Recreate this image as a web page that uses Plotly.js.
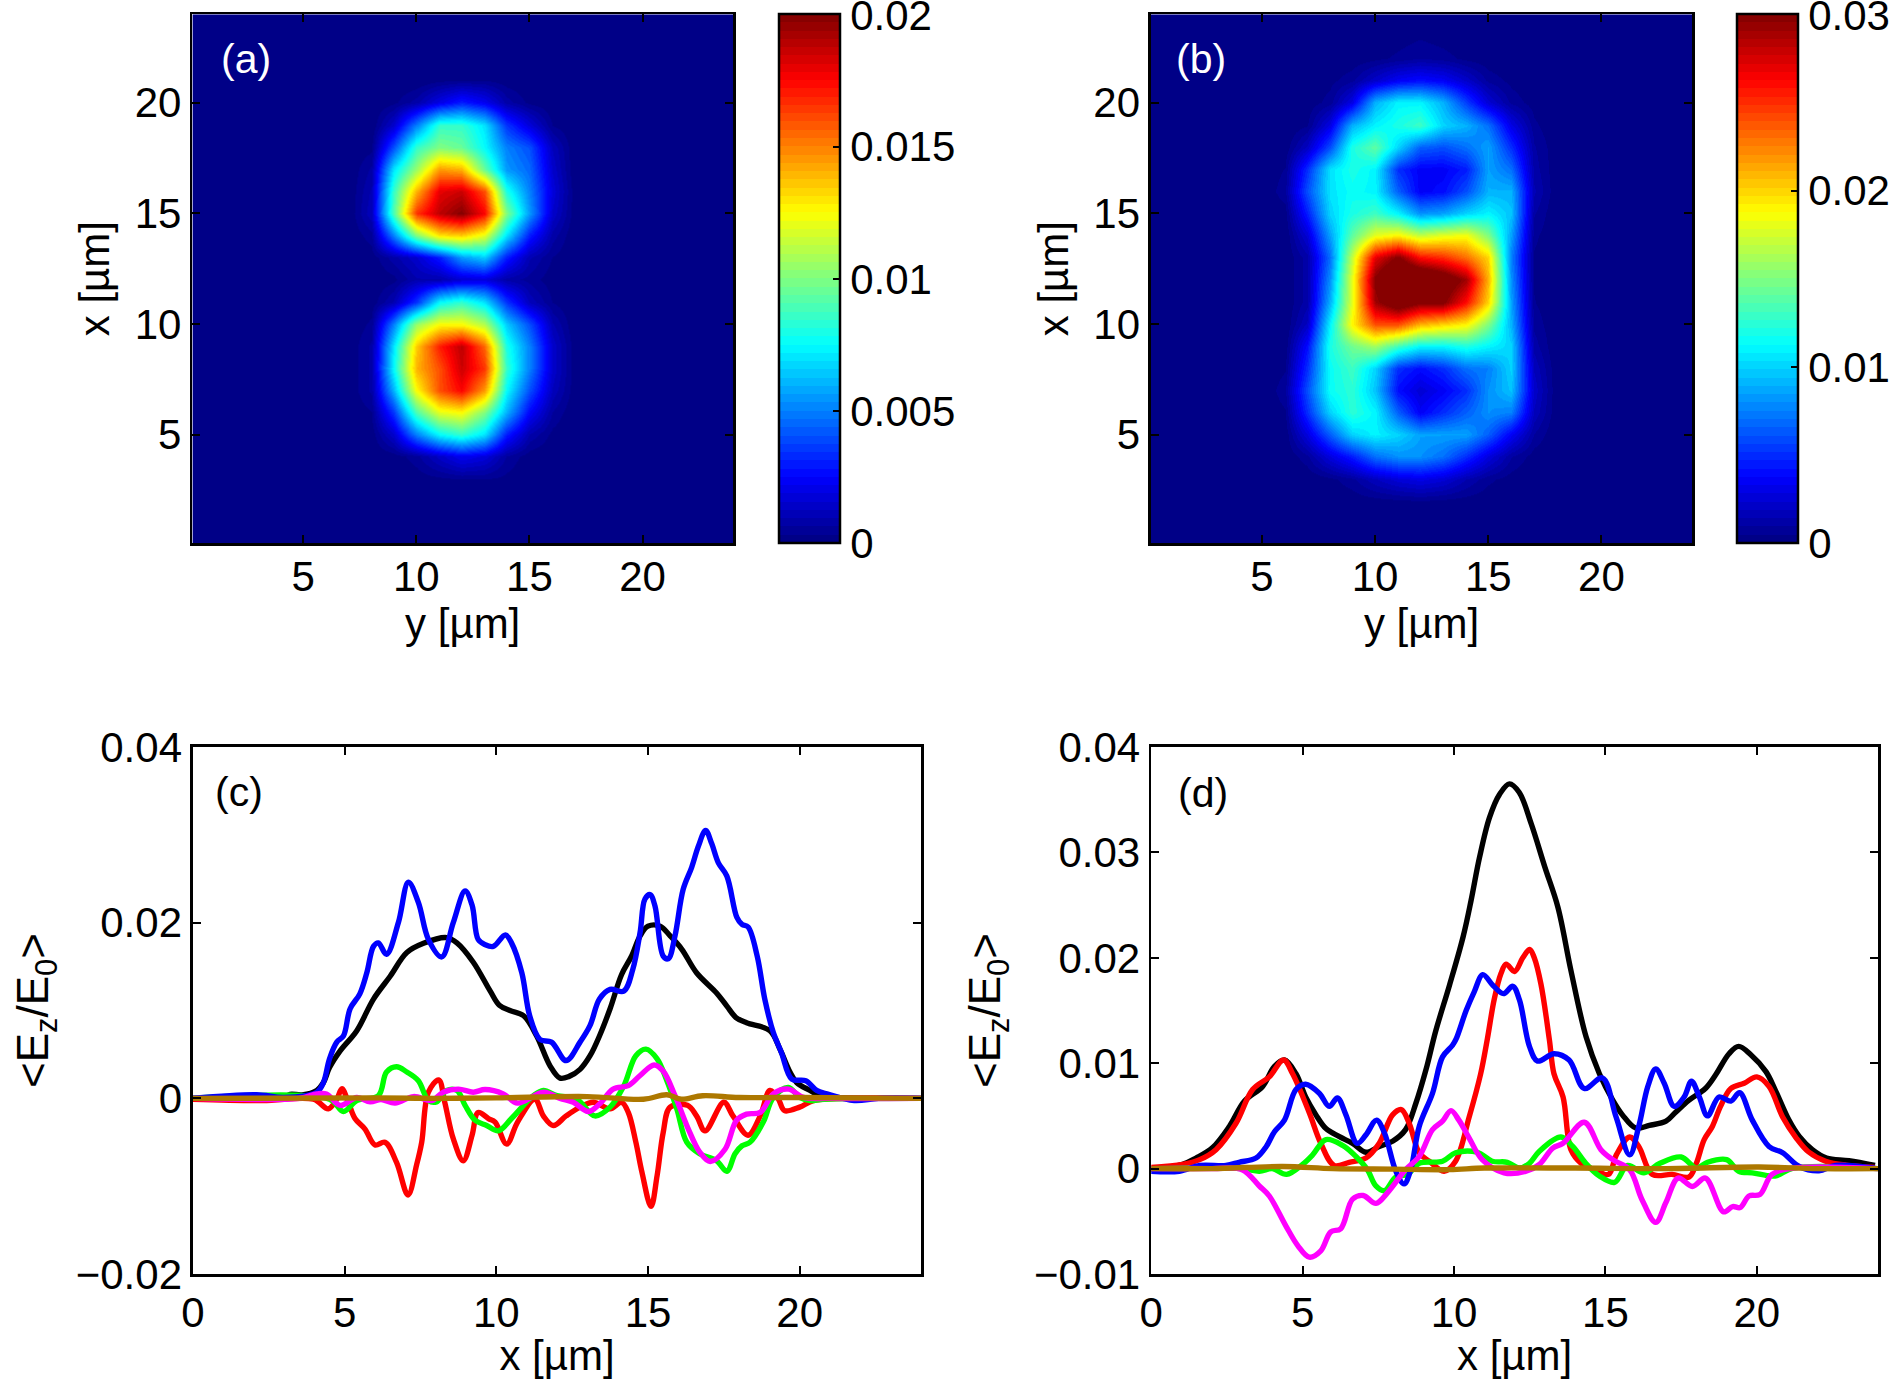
<!DOCTYPE html>
<html>
<head>
<meta charset="utf-8">
<script src="https://cdn.plot.ly/plotly-3.0.1.min.js"></script>
<style>html,body{margin:0;padding:0;background:#fff}</style>
</head>
<body>
<div id="fig" style="width:1890px;height:1379px"></div>
<script>
// all field values below are in units of 1e-3

// (a) map: columns are y = 7..17, rows are x = 3..21
var colsA = [7,8,9,10,11,12,13,14,15,16,17];
var rowsA = [3,4,5,6,7,8,9,10,11,12,13,14,15,16,17,18,19,20,21];
var zA = [
  [0,0,0,.1,.2,.3,.3,.2,0,0,0],
  [0,0,.1,.5,1.4,2.2,1.8,.6,.1,0,0],
  [0,.1,1.5,5,7.5,8.5,7,3,.9,.2,0],
  [0,.3,3.5,9,12,12.5,10,6,2.5,.6,0],
  [.05,.7,6,12.5,16,17.5,14.5,7.5,4,1.2,.1],
  [.05,.7,7.5,14,16,18.5,16.5,8.5,5,1.5,.1],
  [.05,.7,7,13.5,17,18.8,15.5,8,5,1.5,.1],
  [0,.4,5,10.5,12.5,12.5,11,6.5,4,1,0],
  [0,.1,1,3.5,7.5,8.5,7,3.5,1.2,.3,0],
  [0,0,.2,.9,.9,1.6,1.8,.8,.5,.1,0],
  [0,.1,.8,1.5,3,5.5,6.5,3,1,.3,0],
  [0,.5,5,10,13,13.5,12,7,3,.8,0],
  [0,1.2,9,16.5,18.8,19.9,17.5,10,5.5,1.5,.1],
  [0,1,8.5,14,18,18.5,16,8,5,1.8,.1],
  [0,.7,7,10.5,14.5,14,9.5,5.5,4.5,1.5,0],
  [0,.2,4,8.5,10,9.5,7.5,5,4,1.2,0],
  [0,0,1.5,5,8.5,8.5,7,3.5,1.8,.3,0],
  [0,0,.2,.8,2,3,2.2,.8,.2,0,0],
  [0,0,0,0,.2,.3,.3,.1,0,0,0]
];

// (b) map: columns are y = 6..18, rows are x = 2..23
var colsB = [6,7,8,9,10,11,12,13,14,15,16,17,18];
var rowsB = [2,3,4,5,6,7,8,9,10,11,12,13,14,15,16,17,18,19,20,21,22,23];
var zB = [
  [0,0,0,.1,.2,.3,.4,.3,.2,.1,0,0,0],
  [0,0,.3,.8,1.8,2.6,3,2.5,1.4,.6,.2,0,0],
  [0,.8,2.8,4.5,7,8,8,7,5,2.8,1,.2,0],
  [.1,2.8,6.5,10,11,10,8.5,8.5,8.5,6.5,3.5,.9,0],
  [.4,5,10,12.5,11,6.5,3.5,5,6.5,8,7.5,1.8,.1],
  [.8,6,11.5,12.5,9.5,4,2.5,3.5,5,8,9.5,2.2,.1],
  [.4,5,11.5,13,10,5,4,5,7,7.5,10,1.8,.1],
  [.1,4,12,14.5,16,13,11,11,12,11,10,1.2,0],
  [0,2,11,19,24,24,21,20,19,15,9,.8,0],
  [0,1.2,9,18,29,32,30,30,26,20,8.5,.5,0],
  [0,1.2,8,18,30,34,34,32,29,21,8,.4,0],
  [0,1.2,7,17,27,30,26,25,23,20,7.5,.4,0],
  [0,2.5,8.5,14,18,19,17,18,18.5,15,8.5,.6,0],
  [.2,4.5,10,12,13,11,8,8.5,10,11,9.5,1,0],
  [.8,6,10.5,11.5,11,6.5,3.5,4,6,9,9,1.5,.1],
  [.5,5,10.5,12,11,5,3.5,3.5,4.5,8.5,7,1.2,.1],
  [.1,2,6,12,14,10,6.5,6,7,8.5,5,1,.1],
  [0,.4,3,9,11,12,13,10,9,7,3,.6,0],
  [0,.1,.7,3,9,11,11,9,5.5,2.5,.8,.2,0],
  [0,0,.3,.8,2.2,3.5,4,3.5,2.2,.8,.3,0,0],
  [0,0,0,.1,.3,.6,.9,.7,.3,.1,0,0,0],
  [0,0,0,0,0,.2,.4,.2,0,0,0,0,0]
];

// (c) curves
var cBlackX = [0,3,3.2,3.6,4.08,4.3,4.5,4.85,5.4,5.95,6.5,7.05,7.6,8.36,8.7,9.24,9.8,10.1,10.45,10.9,11.33,11.77,12.1,12.4,12.76,13.09,13.4,13.75,14.13,14.46,14.74,15,15.4,15.73,16.11,16.6,17.26,17.6,17.9,18.25,19.02,19.35,19.68,19.9,20.34,20.67,21.2,24];
var cBlackY = [0,.1,.45,.4,.9,1.8,3.5,5.4,7.7,11.3,13.9,16.6,17.65,18.3,17.7,15.5,12.2,10.6,10,9.4,7.1,3.7,2.3,2.5,3.3,4.85,7.1,10.2,14.1,16.2,18.5,19.6,19.6,18.5,17,14.3,12,10.5,9.2,8.6,7.7,5.6,3,1.8,.9,.3,.1,0];
var cRedX = [0,2.3,3.97,4.46,4.74,4.91,5.12,5.34,5.67,6,6.33,6.71,7.09,7.37,7.54,7.76,8.1,8.3,8.58,8.91,9.2,9.4,9.74,9.96,10.34,10.7,11.27,11.55,11.88,12.3,12.76,13.2,13.75,14.13,14.35,14.6,14.8,15.1,15.3,15.5,15.73,16.3,16.6,16.88,17.5,17.8,18.3,18.7,19.02,19.3,19.5,20,20.45,21.5,24];
var cRedY = [-.1,-.25,-.1,-1.2,-.1,1.1,-.45,-2.3,-3.5,-5.3,-5,-7.3,-11,-7.6,-5,.7,2.1,-.45,-4.6,-7.1,-4.2,-1.6,-2.3,-2.7,-5.2,-2.7,-.1,-2,-3.1,-2,-1,-.45,-1.2,-.45,-1.6,-5,-8.4,-12.3,-8.8,-3.9,-1,-.8,-2,-3.7,-.45,-2,-4.2,-2,.9,-.1,-1.4,-1,-.25,0,0];
var cGreenX = [0,4.5,4.96,5.4,6.11,6.38,6.71,7.05,7.43,7.76,8.03,8.36,8.7,8.97,9.3,9.68,10.07,10.5,11.22,11.55,12,12.65,13.25,13.75,14.2,14.6,14.93,15.3,15.6,15.95,16.28,16.7,17.26,17.6,17.87,18.1,18.36,18.8,19.13,19.63,20,20.34,20.8,24];
var cGreenY = [0,-.1,-1.5,-.25,.3,3,3.6,3,2,-.25,-.4,.9,.9,-.8,-2.5,-3.1,-3.7,-2.3,.3,.9,.3,-.1,-2,-1,1.4,4.85,5.6,4.5,2.2,-1.2,-5,-6.3,-7.1,-8.3,-6.3,-5.4,-5,-2.7,.1,1.25,.1,-.25,-.1,0];
var cBlueX = [0,2.1,3,4.08,4.3,4.5,4.74,4.96,5.18,5.5,5.73,5.95,6.11,6.38,6.77,7.1,7.43,7.76,8.2,8.58,8.97,9.2,9.4,9.63,9.9,10.3,10.5,10.84,11.1,11.44,11.82,12.3,12.76,13.09,13.4,13.75,14.2,14.5,14.74,14.9,15.07,15.23,15.5,15.67,15.89,16.16,16.44,16.66,16.9,17.1,17.32,17.6,17.93,18.1,18.3,18.6,18.85,19.13,19.4,19.74,20.2,20.56,20.9,21.8,22.6,24];
var cBlueY = [0,.4,.1,.7,1.8,4.5,6.4,7.1,10.2,11.9,14.3,17.3,17.7,16.4,20,24.6,22.3,18.1,16.1,20,23.6,22,18.1,17.5,17.3,18.6,17.7,14.3,9.4,6.7,6.4,4.3,6.4,8.3,11.3,12.4,12.2,14.7,18.9,22.7,23.2,21.9,16.2,15.9,18.5,23.8,26.3,28.7,30.5,29,26.8,25.3,20.6,19.8,19.5,16.2,11.3,7.5,5.2,2.2,2,.9,.5,-.25,0,0];
var cMagentaX = [0,3.5,4.08,4.4,4.85,5.4,5.84,6.2,6.66,7.27,7.87,8.25,8.75,9.24,9.63,10.23,10.7,11.55,12.1,12.54,13.03,13.4,13.85,14.35,14.74,15.2,15.5,15.89,16.33,16.7,17.05,17.54,17.92,18.25,18.7,19.13,19.63,20.13,21,24];
var cMagentaY = [0,0,.5,.5,-.8,.1,-.4,-.15,-.55,.2,-.25,.7,1.05,.7,1,.5,-.55,.7,0,-.45,-1.5,-.65,1.05,1.45,2.6,3.8,3.1,.3,-3.5,-6.1,-7.2,-5.8,-2.5,-1.8,-1.6,.5,1.05,.1,0,0];
var cBrownX = [0,6,8,10,13,14.85,15.62,16.1,16.8,18,20,24];
var cBrownY = [0,.05,0,.05,.2,-.1,.4,-.1,.3,.1,.1,0];

// (d) curves
var dBlackX = [0,1.04,1.48,2.03,2.58,3.08,3.68,4.07,4.4,4.78,5.1,5.44,5.77,6.2,6.65,7.09,7.53,7.97,8.4,8.74,9.07,9.4,9.85,10.3,10.56,10.84,11.17,11.5,11.83,12.15,12.55,13,13.43,13.86,14.36,14.8,15.24,15.56,16,16.45,17,17.3,17.76,18.3,18.64,19.08,19.4,19.8,20.3,20.6,21.06,21.4,21.83,22.3,23.04,23.9];
var dBlackY = [-.1,.4,1,2,4,6.4,7.8,9.7,10.3,9,6.8,5.1,3.8,3.05,2.4,1.55,2.1,2.6,3.7,6.2,9.35,13.1,17.4,22,25.4,29.5,33.3,35.5,36.5,35.7,32.7,28.6,24.8,18.8,12.5,9,6.5,5.1,3.85,4.1,4.5,5.3,6.5,7.6,8.9,10.9,11.6,10.8,9.2,7.5,4.6,3.05,1.8,1,.75,.3];
var dRedX = [0,1.04,1.6,2.14,2.8,3.35,3.9,4.37,4.67,5.22,5.6,6.04,6.54,7.09,7.53,7.97,8.26,8.52,8.85,9.18,9.67,10.05,10.5,10.88,11.1,11.33,11.55,11.72,12,12.27,12.5,12.65,12.87,13.15,13.3,13.6,13.86,14.2,14.63,15.1,15.36,15.8,16.1,16.55,17.2,17.76,18,18.26,18.53,18.8,19.14,19.58,20,20.4,20.85,21.3,21.7,22.27,23,23.9];
var dRedY = [.1,.4,.85,1.8,4.3,7.5,8.7,10.3,9,5.3,2.4,.3,.6,1,2.4,5.1,5.6,4.3,1.5,.7,-.25,.7,4.9,9,12.3,16.1,18.5,19.4,18.7,20,20.8,20,17.5,12.2,9,6.8,1.8,.5,-.1,-.55,1.3,3,2.1,-.55,-.55,-.8,.5,2.75,4,5.9,7.6,8.1,8.7,7.8,4.9,2.9,1.6,.7,.3,.1];
var dGreenX = [0,3,3.57,4,4.47,5,5.33,5.77,6.32,6.76,7.14,7.42,7.7,8.08,8.47,8.85,9.62,10.05,10.77,11.26,11.76,12.16,12.49,12.82,13.53,13.92,14.35,14.8,15.3,15.73,16.27,16.8,17.5,18,18.37,19,19.4,19.85,20.6,21.2,24];
var dGreenY = [0,0,-.25,0,-.55,.4,1.3,2.75,2.2,1.15,-.1,-1.65,-2.1,-.8,-.55,.5,.7,1.5,1.55,.7,.6,.05,.5,1.65,3,2.1,.5,-.7,-1.3,.3,-.4,.5,1.1,.05,.6,.85,-.25,-.4,-.7,.05,0];
var dBlueX = [0,.93,1.6,2.47,2.9,3.46,3.8,4.07,4.4,4.78,5.1,5.55,5.88,6.15,6.43,6.8,7.09,7.44,7.7,8.08,8.35,8.57,8.85,9.29,9.62,9.95,10.07,10.4,10.67,10.95,11.28,11.63,11.94,12.16,12.49,12.76,13.3,13.8,14.3,14.9,15.35,15.8,16.1,16.4,16.66,16.94,17.27,17.6,17.84,18.1,18.37,18.75,19.14,19.43,19.85,20.4,20.85,21.4,22.05,22.6,23.9];
var dBlueY = [-.25,-.25,.3,.3,.6,1,2.1,3.5,4.6,7.5,8,7.15,5.9,6.7,5.1,2.4,3.2,4.6,3.4,-.25,-1.45,-.1,4,7.15,10.6,11.7,12.3,15,16.8,18.4,17.4,16.6,17.3,16,11.6,10.2,10.9,10.3,7.6,8.6,4.9,1.3,4,7.8,9.45,8.1,5.9,6.8,8.3,6.8,5,6.8,6.4,7.2,4.6,2.1,1.5,.2,-.2,.3,.05];
var dMagentaX = [0,2,3,3.57,3.9,4.45,4.84,5.22,5.6,5.93,6.26,6.65,7,7.42,7.8,8.4,8.85,9.29,9.62,9.9,10.16,10.5,10.93,11.65,12.38,12.82,13.26,13.6,14.3,14.85,15.24,15.8,16.2,16.66,17,17.4,17.87,18.3,18.9,19.2,19.45,19.74,20.1,20.5,21.2,24];
var dMagentaY = [0,0,-.1,-1.65,-2.6,-5.45,-7.3,-8.4,-7.8,-6,-5.7,-2.9,-2.55,-3.3,-2.3,-.1,1.15,3.7,4.5,5.5,4.6,2.9,.85,-.4,-.25,.4,1.95,2.4,4.4,1.8,.85,-.1,-2.9,-5.1,-3.2,-.9,-1.7,-.9,-4.1,-3.6,-3.7,-2.6,-2.45,-.55,.05,0];
var dBrownX = [0,2,4.34,6,8,9.85,11,14,17,20.07,22,24];
var dBrownY = [0,0,.2,0,-.05,-.1,.05,.05,0,.15,0,0];

var lineColors = ['#000000','#ff0000','#00ff00','#0000ff','#ff00ff','#ad7800'];
var tickFont = {family: 'Liberation Sans, Arial, sans-serif', size: 42, color: '#000'};

// page size
var W = 1890, H = 1379;
function fx(a, b) { return [a / W, b / W]; }
function fy(top, bottom) { return [1 - bottom / H, 1 - top / H]; }

// matlab jet, 64 flat bands
function jetScale() {
  var out = [];
  for (var i = 0; i < 64; i++) {
    var t = (i + 0.5) / 64;
    var r = Math.min(4 * t - 1.5, -4 * t + 4.5);
    var g = Math.min(4 * t - 0.5, -4 * t + 3.5);
    var b = Math.min(4 * t + 0.5, -4 * t + 2.5);
    var col = 'rgb(' + [r, g, b].map(function (c) {
      return Math.round(255 * Math.max(0, Math.min(1, c)));
    }).join(',') + ')';
    out.push([i / 64, col]);
    out.push([(i + 1) / 64, col]);
  }
  return out;
}

// put a table on the whole 0..24 grid, zero outside it
function fullGrid(cols, rows, table) {
  var z = [];
  for (var r = 0; r <= 24; r++) {
    var line = [];
    for (var c = 0; c <= 24; c++) {
      var ri = rows.indexOf(r), ci = cols.indexOf(c);
      line.push(ri >= 0 && ci >= 0 ? table[ri][ci] / 1000 : 0);
    }
    z.push(line);
  }
  return z;
}

var grid = [];
for (var g = 0; g <= 24; g++) grid.push(g);

function scaled(a) { return a.map(function (v) { return v / 1000; }); }

function mapTrace(xa, ya, z, zmax, cbX, cbVals, cbText) {
  return {
    type: 'heatmap', xaxis: xa, yaxis: ya, x: grid, y: grid, z: z,
    zmin: 0, zmax: zmax, zsmooth: 'best', colorscale: jetScale(),
    colorbar: {
      x: cbX / W, xanchor: 'left', xpad: 0, ypad: 0,
      y: 1 - 14.3 / H, yanchor: 'top', len: 528.7 / H, lenmode: 'fraction',
      thickness: 61, thicknessmode: 'pixels', outlinewidth: 2.5, outlinecolor: '#000',
      tickmode: 'array', tickvals: cbVals, ticktext: cbText, ticklabeloverflow: 'allow',
      ticks: 'inside', ticklen: 8, tickwidth: 2, tickcolor: '#000', tickfont: tickFont
    }
  };
}

function curve(xa, ya, x, y, col) {
  return {
    type: 'scatter', mode: 'lines', xaxis: xa, yaxis: ya, x: x, y: scaled(y),
    line: {color: col, width: 5.4, shape: 'spline', smoothing: 1}, showlegend: false
  };
}

// top value a hair under zmax, or the colorbar axis can drop its label
var cbValsA = [0, .005, .01, .015, .01998], cbTextA = ['0', '0.005', '0.01', '0.015', '0.02'];
var cbValsB = [0, .01, .02, .02997], cbTextB = ['0', '0.01', '0.02', '0.03'];

var data = [
  mapTrace('x', 'y', fullGrid(colsA, rowsA, zA), 0.02, 778.5, cbValsA, cbTextA),
  mapTrace('x2', 'y2', fullGrid(colsB, rowsB, zB), 0.03, 1737, cbValsB, cbTextB),
  curve('x3', 'y3', cBlackX, cBlackY, lineColors[0]),
  curve('x3', 'y3', cRedX, cRedY, lineColors[1]),
  curve('x3', 'y3', cGreenX, cGreenY, lineColors[2]),
  curve('x3', 'y3', cBlueX, cBlueY, lineColors[3]),
  curve('x3', 'y3', cMagentaX, cMagentaY, lineColors[4]),
  curve('x3', 'y3', cBrownX, cBrownY, lineColors[5]),
  curve('x4', 'y4', dBlackX, dBlackY, lineColors[0]),
  curve('x4', 'y4', dRedX, dRedY, lineColors[1]),
  curve('x4', 'y4', dGreenX, dGreenY, lineColors[2]),
  curve('x4', 'y4', dBlueX, dBlueY, lineColors[3]),
  curve('x4', 'y4', dMagentaX, dMagentaY, lineColors[4]),
  curve('x4', 'y4', dBrownX, dBrownY, lineColors[5])
];

function axis(domain, range, vals, text, title, anchor, standoff, titleSize, labelShift) {
  return {
    domain: domain, range: range, anchor: anchor, tickmode: 'array', tickvals: vals, ticktext: text,
    ticks: 'inside', ticklen: 8, tickwidth: 2, tickcolor: '#000', showline: true, linewidth: 2.6,
    linecolor: '#000', mirror: 'ticks', showgrid: false, zeroline: false, tickfont: tickFont,
    ticklabelstandoff: labelShift || 0,
    title: {text: title, font: {family: tickFont.family, size: titleSize || 42, color: '#000'}, standoff: standoff}
  };
}

var mapTicks = [5, 10, 15, 20], mapText = ['5', '10', '15', '20'];
var xTicks = [0, 5, 10, 15, 20], xText = ['0', '5', '10', '15', '20'];
var cVals = [-.02, 0, .02, .04], cText = ['\u22120.02', '0', '0.02', '0.04'];
var dVals = [-.01, 0, .01, .02, .03, .04], dText = ['\u22120.01', '0', '0.01', '0.02', '0.03', '0.04'];
var ezTitle = '&lt;E<sub>z</sub>/E<sub>0</sub>&gt;';

function note(text, xa, ya, x, y, col) {
  return {text: text, xref: xa, yref: ya, x: x, y: y, showarrow: false,
    font: {family: tickFont.family, size: 41, color: col}};
}

// matlab also ticks the left edge of the colorbar
function barTicks(cbX, vals, zmax) {
  return vals.slice(1, -1).map(function (v) {
    var py = 1 - (543 - v / zmax * 528.7) / H;
    return {type: 'line', xref: 'paper', yref: 'paper', x0: cbX / W, x1: (cbX + 8) / W, y0: py, y1: py,
      line: {color: '#000', width: 2}};
  });
}

var layout = {
  width: W, height: H, margin: {l: 0, r: 0, t: 0, b: 0, autoexpand: false}, paper_bgcolor: '#fff', plot_bgcolor: '#fff',
  showlegend: false,
  xaxis: axis(fx(192.4, 733), [0.1, 24], mapTicks, mapText, 'y [\u00b5m]', 'y', 2, 42, -5),
  yaxis: axis(fy(14.3, 543), [0.1, 24], mapTicks, mapText, 'x [\u00b5m]', 'x', 12),
  xaxis2: axis(fx(1151, 1692), [0.1, 24], mapTicks, mapText, 'y [\u00b5m]', 'y2', 2, 42, -5),
  yaxis2: axis(fy(14.3, 543), [0.1, 24], mapTicks, mapText, 'x [\u00b5m]', 'x2', 12),
  xaxis3: axis(fx(193, 921), [0, 24], xTicks, xText, 'x [\u00b5m]', 'y3', 4),
  yaxis3: axis(fy(747, 1274), [-.02, .04], cVals, cText, ezTitle, 'x3', 14, 44),
  xaxis4: axis(fx(1151.2, 1878), [0, 24], xTicks, xText, 'x [\u00b5m]', 'y4', 4),
  yaxis4: axis(fy(747, 1274), [-.01, .04], dVals, dText, ezTitle, 'x4', 20, 44),
  annotations: [
    note('(a)', 'x', 'y', 2.47, 21.97, '#fff'),
    note('(b)', 'x2', 'y2', 2.3, 21.97, '#fff'),
    note('(c)', 'x3', 'y3', 1.5, .0349, '#000'),
    note('(d)', 'x4', 'y4', 1.71, .0356, '#000')
  ],
  shapes: barTicks(778.5, cbValsA, .02).concat(barTicks(1737, cbValsB, .03))
};

Plotly.newPlot('fig', data, layout, {displayModeBar: false, staticPlot: true});
</script>
</body>
</html>
